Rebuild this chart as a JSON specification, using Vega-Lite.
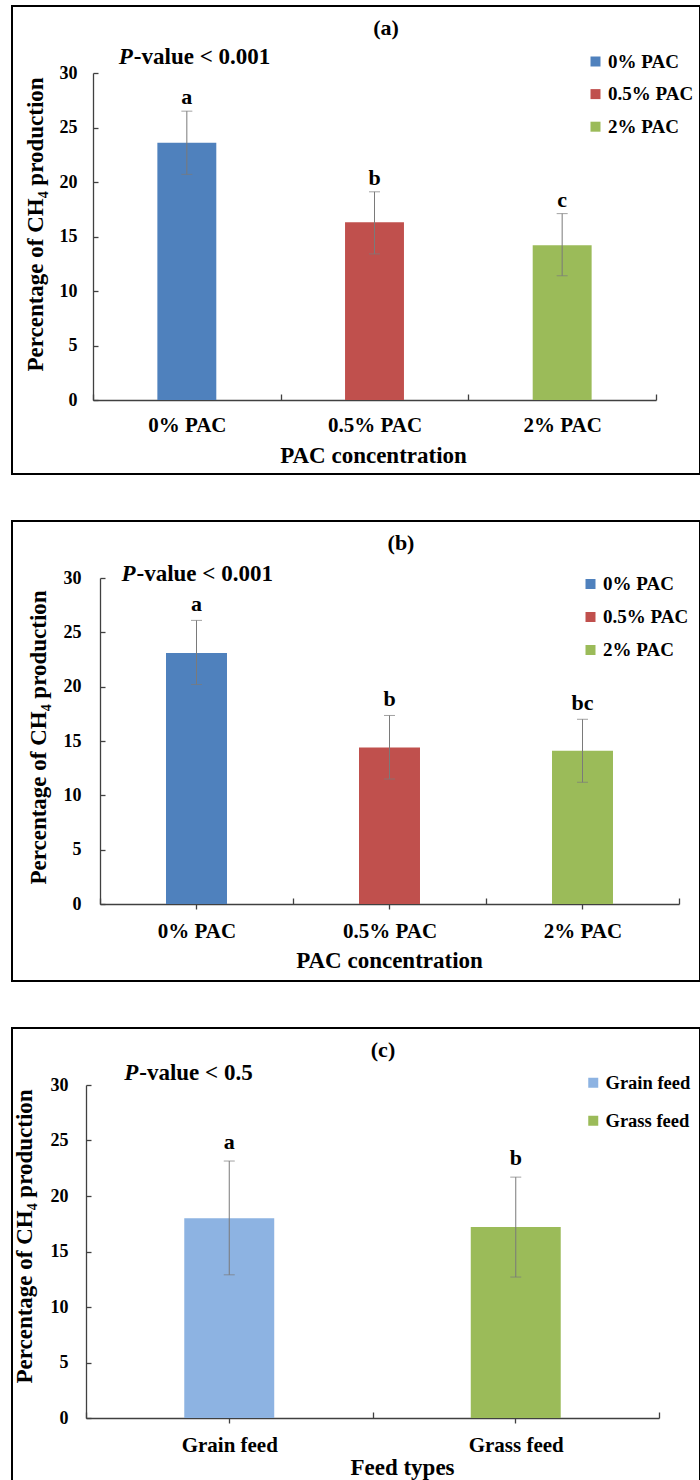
{
  "$schema": "https://vega.github.io/schema/vega-lite/v6.json",
  "background": "white",
  "padding": {"left": 11, "top": 5, "right": 0, "bottom": 0},
  "spacing": 45,
  "resolve": {"scale": {"color": "independent"}, "legend": {"color": "independent"}},
  "config": {
    "font": "Liberation Serif",
    "view": {"stroke": "black", "strokeWidth": 2},
    "axis": {
      "labelFont": "Liberation Serif", "labelFontWeight": "bold", "labelColor": "black",
      "titleFont": "Liberation Serif", "titleFontWeight": "bold", "titleColor": "black",
      "grid": false, "domainColor": "#404040", "tickColor": "#404040", "domainWidth": 1.3, "tickWidth": 1.3
    },
    "legend": {
      "labelFont": "Liberation Serif", "labelFontWeight": "bold", "labelColor": "black", "labelFontSize": 19,
      "symbolType": "square", "symbolSize": 100, "symbolStrokeWidth": 0, "labelOffset": 3, "padding": 0, "labelLimit": 300
    }
  },
  "vconcat": [
    {
      "width": 688, "height": 468,
      "data": {"values": [
        {"c": "0% PAC", "v": 23.6, "lo": 20.7, "hi": 26.5, "sig": "a"},
        {"c": "0.5% PAC", "v": 16.3, "lo": 13.4, "hi": 19.1, "sig": "b"},
        {"c": "2% PAC", "v": 14.2, "lo": 11.4, "hi": 17.1, "sig": "c"}
      ]},
      "layer": [
        {
          "mark": {"type": "bar", "width": {"band": 0.314}},
          "encoding": {
            "x": {"field": "c", "type": "nominal", "sort": null, "title": "PAC concentration",
              "scale": {"domain": ["0% PAC", "0.5% PAC", "2% PAC"], "range": [81, 644], "paddingInner": 0, "paddingOuter": 0},
              "axis": {"orient": "bottom", "offset": -74, "tickBand": "extent", "tickSize": -6, "labelAngle": 0, "labelFontSize": 21, "labelBaseline": "middle", "labelPadding": 31,
                "titleFontSize": 23, "titleX": 361, "titleY": 55, "titleBaseline": "middle", "titleAlign": "center"}},
            "y": {"field": "v", "type": "quantitative", "title": "Percentage of CH₄ production",
              "scale": {"domain": [0, 30], "range": [394, 67], "nice": false},
              "axis": {"orient": "left", "offset": -81, "values": [0, 5, 10, 15, 20, 25, 30], "format": "d", "tickSize": -5, "labelFontSize": 18, "labelPadding": 21,
                "titleFontSize": 23, "titleAngle": -90, "titleX": -58, "titleY": 218, "titleBaseline": "middle", "titleAlign": "center"}},
            "color": {"field": "c", "type": "nominal", "sort": null,
              "scale": {"domain": ["0% PAC", "0.5% PAC", "2% PAC"], "range": ["#4F81BD", "#C0504D", "#9BBB59"]},
              "legend": {"orient": "none", "legendX": 574, "legendY": 46, "title": null, "rowPadding": 12.6}}
          }
        },
        {
          "mark": {"type": "errorbar", "ticks": true, "size": 11, "thickness": 1, "color": "#7a7a7a"},
          "encoding": {
            "x": {"field": "c", "type": "nominal", "sort": null, "title": "PAC concentration"},
            "y": {"field": "lo", "type": "quantitative", "title": "Percentage of CH₄ production"},
            "y2": {"field": "hi"}
          }
        },
        {
          "mark": {"type": "text", "baseline": "alphabetic", "dy": -7, "fontSize": 22, "fontWeight": "bold", "font": "Liberation Serif", "color": "black"},
          "encoding": {
            "x": {"field": "c", "type": "nominal", "sort": null, "title": "PAC concentration"},
            "y": {"field": "hi", "type": "quantitative", "title": "Percentage of CH₄ production"},
            "text": {"field": "sig"}
          }
        },
        {
          "data": {"values": [{"t": "P"}]},
          "mark": {"type": "text", "align": "left", "baseline": "middle", "dx": -68, "fontSize": 23, "fontWeight": "bold", "fontStyle": "italic", "font": "Liberation Serif", "color": "black"},
          "encoding": {
            "x": {"datum": "0% PAC", "type": "nominal"},
            "y": {"datum": 31.47, "type": "quantitative"},
            "text": {"field": "t"}
          }
        },
        {
          "data": {"values": [{"t": "-value < 0.001"}]},
          "mark": {"type": "text", "align": "left", "baseline": "middle", "dx": -53, "fontSize": 23, "fontWeight": "bold", "font": "Liberation Serif", "color": "black"},
          "encoding": {
            "x": {"datum": "0% PAC", "type": "nominal"},
            "y": {"datum": 31.47, "type": "quantitative"},
            "text": {"field": "t"}
          }
        },
        {
          "data": {"values": [{"t": "(a)"}]},
          "mark": {"type": "text", "align": "center", "baseline": "middle", "dx": 11.5, "fontSize": 22, "fontWeight": "bold", "font": "Liberation Serif", "color": "black"},
          "encoding": {
            "x": {"datum": "0.5% PAC", "type": "nominal"},
            "y": {"datum": 34.13, "type": "quantitative"},
            "text": {"field": "t"}
          }
        }
      ]
    },
    {
      "width": 688, "height": 460,
      "data": {"values": [
        {"c": "0% PAC", "v": 23.1, "lo": 20.2, "hi": 26.1, "sig": "a"},
        {"c": "0.5% PAC", "v": 14.4, "lo": 11.5, "hi": 17.35, "sig": "b"},
        {"c": "2% PAC", "v": 14.1, "lo": 11.2, "hi": 17.0, "sig": "bc"}
      ]},
      "resolve": {"axis": {"x": "independent"}},
      "layer": [
        {
          "mark": {"type": "bar", "width": {"band": 0.316}},
          "encoding": {
            "x": {"field": "c", "type": "nominal", "sort": null, "title": "PAC concentration",
              "scale": {"domain": ["0% PAC", "0.5% PAC", "2% PAC"], "range": [88, 667], "paddingInner": 0, "paddingOuter": 0},
              "axis": {"orient": "bottom", "offset": -77, "tickBand": "extent", "tickSize": -6, "labelAngle": 0, "labelFontSize": 21, "labelBaseline": "middle", "labelPadding": 33,
                "titleFontSize": 23, "titleX": 377, "titleY": 56, "titleBaseline": "middle", "titleAlign": "center"}},
            "y": {"field": "v", "type": "quantitative", "title": "Percentage of CH₄ production",
              "scale": {"domain": [0, 30], "range": [383, 57], "nice": false},
              "axis": {"orient": "left", "offset": -88, "values": [0, 5, 10, 15, 20, 25, 30], "format": "d", "tickSize": -5, "labelFontSize": 18, "labelPadding": 24,
                "titleFontSize": 23, "titleAngle": -90, "titleX": -62, "titleY": 216, "titleBaseline": "middle", "titleAlign": "center"}},
            "color": {"field": "c", "type": "nominal", "sort": null,
              "scale": {"domain": ["0% PAC", "0.5% PAC", "2% PAC"], "range": ["#4F81BD", "#C0504D", "#9BBB59"]},
              "legend": {"orient": "none", "legendX": 569, "legendY": 53.5, "title": null, "rowPadding": 13}}
          }
        },
        {
          "mark": {"type": "errorbar", "ticks": true, "size": 11, "thickness": 1, "color": "#7a7a7a"},
          "encoding": {
            "x": {"field": "c", "type": "nominal", "sort": null,
              "axis": {"orient": "bottom", "offset": -77, "labels": false, "domain": false, "title": null, "tickSize": 5, "tickBand": "center"}},
            "y": {"field": "lo", "type": "quantitative", "title": "Percentage of CH₄ production"},
            "y2": {"field": "hi"}
          }
        },
        {
          "mark": {"type": "text", "baseline": "alphabetic", "dy": -9, "fontSize": 22, "fontWeight": "bold", "font": "Liberation Serif", "color": "black"},
          "encoding": {
            "x": {"field": "c", "type": "nominal", "sort": null, "axis": null},
            "y": {"field": "hi", "type": "quantitative", "title": "Percentage of CH₄ production"},
            "text": {"field": "sig"}
          }
        },
        {
          "data": {"values": [{"t": "P"}]},
          "mark": {"type": "text", "align": "left", "baseline": "middle", "dx": -75, "fontSize": 23, "fontWeight": "bold", "fontStyle": "italic", "font": "Liberation Serif", "color": "black"},
          "encoding": {
            "x": {"datum": "0% PAC", "type": "nominal", "axis": null},
            "y": {"datum": 30.36, "type": "quantitative"},
            "text": {"field": "t"}
          }
        },
        {
          "data": {"values": [{"t": "-value < 0.001"}]},
          "mark": {"type": "text", "align": "left", "baseline": "middle", "dx": -60, "fontSize": 23, "fontWeight": "bold", "font": "Liberation Serif", "color": "black"},
          "encoding": {
            "x": {"datum": "0% PAC", "type": "nominal", "axis": null},
            "y": {"datum": 30.36, "type": "quantitative"},
            "text": {"field": "t"}
          }
        },
        {
          "data": {"values": [{"t": "(b)"}]},
          "mark": {"type": "text", "align": "center", "baseline": "middle", "dx": 11.5, "fontSize": 22, "fontWeight": "bold", "font": "Liberation Serif", "color": "black"},
          "encoding": {
            "x": {"datum": "0.5% PAC", "type": "nominal", "axis": null},
            "y": {"datum": 33.2, "type": "quantitative"},
            "text": {"field": "t"}
          }
        }
      ]
    },
    {
      "width": 688, "height": 456,
      "data": {"values": [
        {"c": "Grain feed", "v": 18.0, "lo": 12.9, "hi": 23.15, "sig": "a"},
        {"c": "Grass feed", "v": 17.2, "lo": 12.7, "hi": 21.7, "sig": "b"}
      ]},
      "resolve": {"axis": {"x": "independent"}},
      "layer": [
        {
          "mark": {"type": "bar", "width": {"band": 0.314}},
          "encoding": {
            "x": {"field": "c", "type": "nominal", "sort": null, "title": "Feed types",
              "scale": {"domain": ["Grain feed", "Grass feed"], "range": [74, 647], "paddingInner": 0, "paddingOuter": 0},
              "axis": {"orient": "bottom", "offset": -66, "tickBand": "extent", "tickSize": -6, "labelAngle": 0, "labelFontSize": 21, "labelBaseline": "middle", "labelPadding": 33,
                "titleFontSize": 23, "titleX": 390, "titleY": 49, "titleBaseline": "middle", "titleAlign": "center"}},
            "y": {"field": "v", "type": "quantitative", "title": "Percentage of CH₄ production",
              "scale": {"domain": [0, 30], "range": [390, 57], "nice": false},
              "axis": {"orient": "left", "offset": -74, "values": [0, 5, 10, 15, 20, 25, 30], "format": "d", "tickSize": -5, "labelFontSize": 18, "labelPadding": 23,
                "titleFontSize": 23, "titleAngle": -90, "titleX": -62, "titleY": 208, "titleBaseline": "middle", "titleAlign": "center"}},
            "color": {"field": "c", "type": "nominal", "sort": null,
              "scale": {"domain": ["Grain feed", "Grass feed"], "range": ["#8DB3E2", "#9BBB59"]},
              "legend": {"orient": "none", "legendX": 572, "legendY": 45.5, "title": null, "rowPadding": 19, "labelFontSize": 18.5}}
          }
        },
        {
          "mark": {"type": "errorbar", "ticks": true, "size": 11, "thickness": 1, "color": "#7a7a7a"},
          "encoding": {
            "x": {"field": "c", "type": "nominal", "sort": null,
              "axis": {"orient": "bottom", "offset": -66, "labels": false, "domain": false, "title": null, "tickSize": 5, "tickBand": "center"}},
            "y": {"field": "lo", "type": "quantitative", "title": "Percentage of CH₄ production"},
            "y2": {"field": "hi"}
          }
        },
        {
          "mark": {"type": "text", "baseline": "alphabetic", "dy": -12, "fontSize": 22, "fontWeight": "bold", "font": "Liberation Serif", "color": "black"},
          "encoding": {
            "x": {"field": "c", "type": "nominal", "sort": null, "axis": null},
            "y": {"field": "hi", "type": "quantitative", "title": "Percentage of CH₄ production"},
            "text": {"field": "sig"}
          }
        },
        {
          "data": {"values": [{"t": "P"}]},
          "mark": {"type": "text", "align": "left", "baseline": "middle", "dx": -105, "fontSize": 23, "fontWeight": "bold", "fontStyle": "italic", "font": "Liberation Serif", "color": "black"},
          "encoding": {
            "x": {"datum": "Grain feed", "type": "nominal", "axis": null},
            "y": {"datum": 31.08, "type": "quantitative"},
            "text": {"field": "t"}
          }
        },
        {
          "data": {"values": [{"t": "-value < 0.5"}]},
          "mark": {"type": "text", "align": "left", "baseline": "middle", "dx": -90, "fontSize": 23, "fontWeight": "bold", "font": "Liberation Serif", "color": "black"},
          "encoding": {
            "x": {"datum": "Grain feed", "type": "nominal", "axis": null},
            "y": {"datum": 31.08, "type": "quantitative"},
            "text": {"field": "t"}
          }
        },
        {
          "data": {"values": [{"t": "(c)"}]},
          "mark": {"type": "text", "align": "center", "baseline": "middle", "dx": -132.75, "fontSize": 22, "fontWeight": "bold", "font": "Liberation Serif", "color": "black"},
          "encoding": {
            "x": {"datum": "Grass feed", "type": "nominal", "axis": null},
            "y": {"datum": 33.15, "type": "quantitative"},
            "text": {"field": "t"}
          }
        }
      ]
    }
  ]
}
